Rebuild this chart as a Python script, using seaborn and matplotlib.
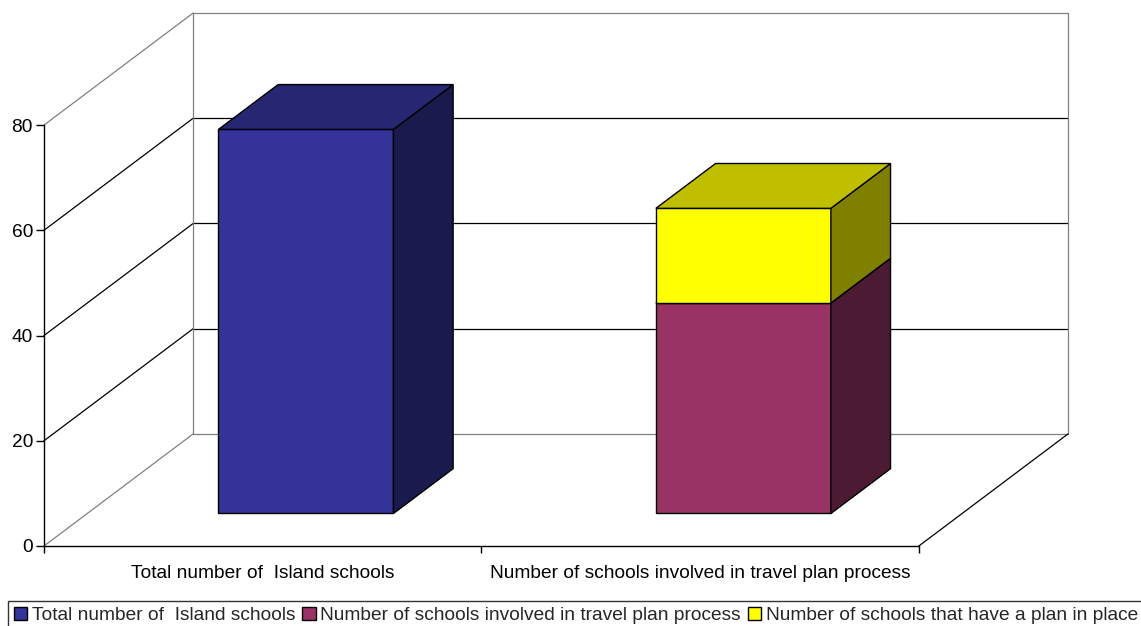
import numpy as np
import pandas as pd
import matplotlib
matplotlib.use("Agg")
import matplotlib.pyplot as plt
import seaborn as sns
from matplotlib.patches import Polygon, Patch

# ---------------- data ----------------
categories = ["Total number of  Island schools",
              "Number of schools involved in travel plan process"]
series_names = ["Total number of  Island schools",
                "Number of schools involved in travel plan process",
                "Number of schools that have a plan in place"]
total_schools = [73, 0]
involved_schools = [0, 40]
plan_in_place = [0, 18]
y_ticks = [0, 20, 40, 60, 80]

# ---------------- style ----------------
front_colors = ["#333399", "#993366", "#FFFF00"]
top_colors = ["#262673", "#73264D", "#BFBF00"]
side_colors = ["#1A1A4D", "#4D1A33", "#808000"]

sns.set_theme(style="white")
plt.rcParams["font.family"] = ["Liberation Sans", "DejaVu Sans"]
FS = 13.8

W, H = 1141, 626
fig = plt.figure(figsize=(W / 100, H / 100), dpi=100)
ax = fig.add_axes([44 / W, 80 / H, 1024 / W, 533 / H])

# 3D depth of the whole plot (in data units)
DX, DY = 0.341, 21.3
D0, D1 = 0.29, 0.69          # bar depth range (fraction of full depth)
bdx, bdy = (D1 - D0) * DX, (D1 - D0) * DY
ymax = y_ticks[-1]
xl, xr = -0.5, len(categories) - 0.5

# ---------------- walls & gridlines ----------------
grey = "#808080"
lkw = dict(lw=0.9, zorder=1, clip_on=False)
for v in y_ticks:
    col = grey if v in (y_ticks[0], y_ticks[-1]) else "black"
    ax.plot([xl, xl + DX], [v, v + DY], color=col, **lkw)
    ax.plot([xl + DX, xr + DX], [v + DY, v + DY], color=col, **lkw)
ax.plot([xl + DX, xl + DX], [DY, ymax + DY], color=grey, **lkw)
ax.plot([xr + DX, xr + DX], [DY, ymax + DY], color=grey, **lkw)
ax.plot([xr, xr + DX], [0, DY], color="black", **lkw)

# ---------------- bars ----------------
series = [total_schools, involved_schools, plan_in_place]
bottoms = [[0, 0], [0, 0], involved_schools]
z = 3
for s, (vals, bots) in enumerate(zip(series, bottoms)):
    rows = [(c, v, b) for c, v, b in zip(categories, vals, bots) if v > 0]
    df = pd.DataFrame(rows, columns=["category", "value", "bottom"])
    n_before = len(ax.patches)
    sns.barplot(data=df, x="category", y="value", order=categories,
                color=front_colors[s], saturation=1, width=0.4,
                edgecolor="black", linewidth=1.0, ax=ax)
    new = ax.patches[n_before:]
    for p, b in zip(new, df["bottom"]):
        p.set_x(p.get_x() + D0 * DX)
        p.set_y(b + D0 * DY)
        p.set_zorder(z)
        x0, y0, w, h = p.get_x(), p.get_y(), p.get_width(), p.get_height()
        side = Polygon([(x0 + w, y0), (x0 + w + bdx, y0 + bdy),
                        (x0 + w + bdx, y0 + h + bdy), (x0 + w, y0 + h)],
                       closed=True, facecolor=side_colors[s],
                       edgecolor="black", lw=1.0, zorder=z + 0.1)
        top = Polygon([(x0, y0 + h), (x0 + w, y0 + h),
                       (x0 + w + bdx, y0 + h + bdy), (x0 + bdx, y0 + h + bdy)],
                      closed=True, facecolor=top_colors[s],
                      edgecolor="black", lw=1.0, zorder=z + 0.2)
        ax.add_patch(side)
        ax.add_patch(top)
        z += 1

# ---------------- axes ----------------
ax.set_xlim(xl, xr + DX)
ax.set_ylim(0, ymax + DY)
ax.set_xlabel("")
ax.set_ylabel("")
ax.grid(False)
for sp in ["top", "right"]:
    ax.spines[sp].set_visible(False)
for sp in ["left", "bottom"]:
    ax.spines[sp].set_color("black")
    ax.spines[sp].set_linewidth(1.0)
ax.spines["left"].set_bounds(0, ymax)
ax.spines["bottom"].set_bounds(xl, xr)

ax.set_yticks(y_ticks)
ax.set_yticklabels([str(v) for v in y_ticks], fontsize=FS)
ax.tick_params(axis="y", direction="out", length=6, width=1, color="black",
               pad=2, left=True, labelcolor="black")
ax.set_xticks(range(len(categories)))
ax.set_xticklabels(categories, fontsize=FS)
ax.set_xticks([xl + i for i in range(len(categories) + 1)], minor=True)
ax.tick_params(axis="x", which="major", length=0, pad=13.5, labelcolor="black")
ax.tick_params(axis="x", which="minor", direction="out", length=5, width=1,
               color="black", bottom=True)

# ---------------- legend ----------------
handles = [Patch(facecolor=c, edgecolor="black", lw=1) for c in front_colors]
leg = fig.legend(handles, series_names, loc="upper left", ncol=3,
                 bbox_to_anchor=(8 / W, 1 - 601 / H), fontsize=FS,
                 frameon=True, fancybox=False, borderaxespad=0,
                 handlelength=0.7, handleheight=0.7, handletextpad=0.25,
                 columnspacing=0.35, borderpad=0.3)
leg.get_frame().set_edgecolor("black")
leg.get_frame().set_linewidth(1.0)

fig.savefig("out.png", dpi=100)
